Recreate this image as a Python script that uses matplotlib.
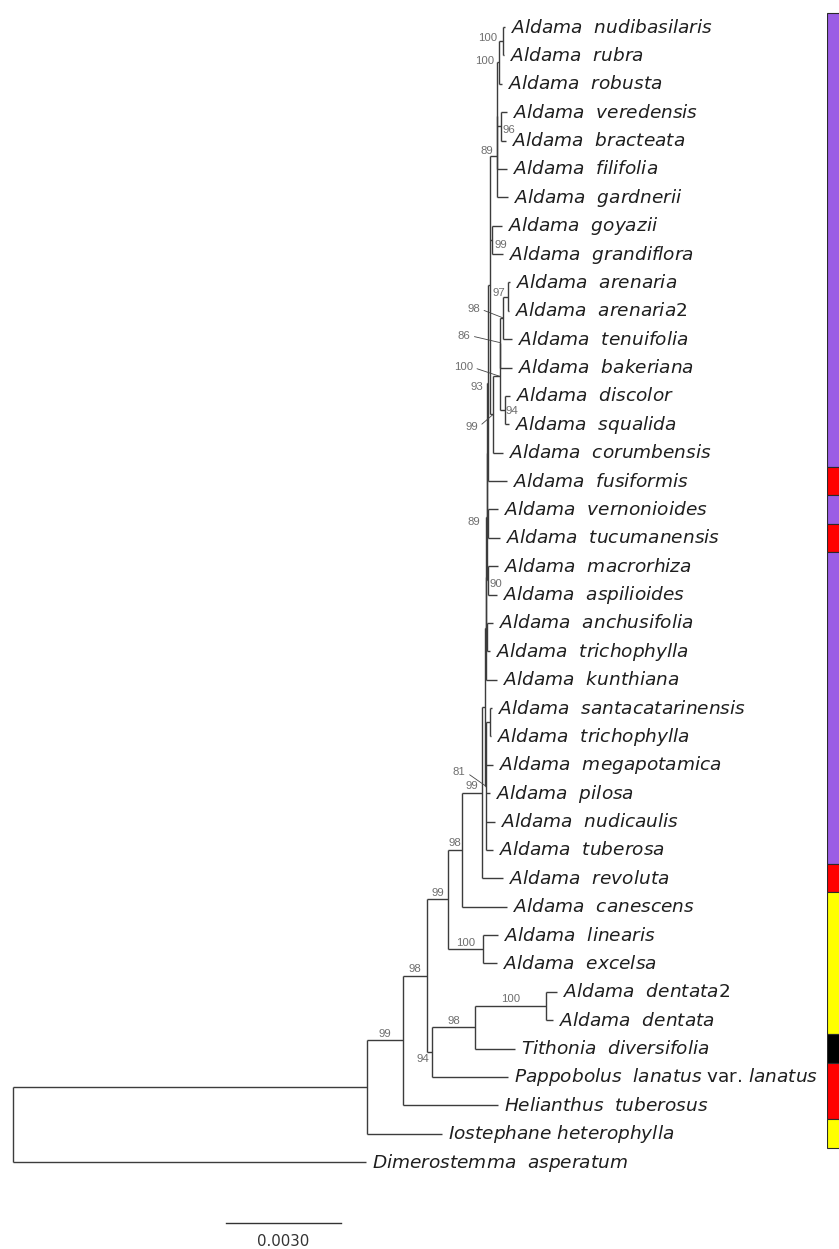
import matplotlib
matplotlib.use('Agg')
import matplotlib.pyplot as plt

# tip names, top to bottom
tip_names = [
    'Aldama  nudibasilaris', 'Aldama  rubra', 'Aldama  robusta',
    'Aldama  veredensis', 'Aldama  bracteata', 'Aldama  filifolia',
    'Aldama  gardnerii', 'Aldama  goyazii', 'Aldama  grandiflora',
    'Aldama  arenaria', 'Aldama  arenaria2', 'Aldama  tenuifolia',
    'Aldama  bakeriana', 'Aldama  discolor', 'Aldama  squalida',
    'Aldama  corumbensis', 'Aldama  fusiformis', 'Aldama  vernonioides',
    'Aldama  tucumanensis', 'Aldama  macrorhiza', 'Aldama  aspilioides',
    'Aldama  anchusifolia', 'Aldama  trichophylla', 'Aldama  kunthiana',
    'Aldama  santacatarinensis', 'Aldama  trichophylla', 'Aldama  megapotamica',
    'Aldama  pilosa', 'Aldama  nudicaulis', 'Aldama  tuberosa',
    'Aldama  revoluta', 'Aldama  canescens', 'Aldama  linearis',
    'Aldama  excelsa', 'Aldama  dentata2', 'Aldama  dentata',
    'Tithonia  diversifolia', 'Pappobolus  lanatus var. lanatus',
    'Helianthus  tuberosus', 'Iostephane heterophylla', 'Dimerostemma  asperatum',
]

# region colour strip at the right (None = no cell)
tip_region = (['P'] * 16 + ['R', 'P', 'R'] + ['P'] * 11 + ['R'] + ['Y'] * 5
              + ['K', 'R', 'R', 'Y', None])
region_colors = {'P': '#9b5de5', 'R': '#ff0000', 'Y': '#ffff00', 'K': '#000000'}

# topology, branch lengths (subst./site) and bootstrap; tN = tip_names[N]
newick = (
    "(((((((((((((("
    "((((t0:0.00005,t1:0.00003)100:0.0001,t2:0.00008)100:0.00004,"
    "(t3:0.00016,t4:0.00013)96:0.00009,t5:0.00025):0.00001,"
    "t6:0.00029)89:0.00018,"
    "(t7:0.00026,t8:0.00029)99:0.00005,"
    "(((((t9:0.00005,t10:0.00003)97:0.00013,t11:0.00023)98:0.00007,"
    "t12:0.0003)86:0.00001,(t13:0.00013,t14:0.0001)94:0.00013)100:0.00018,"
    "t15:0.00026)99:0.00008):0.00004,"
    "t16:0.00048)93:0.00004,"
    "(t17:0.00026,t18:0.00031)89:0.00003):0.00001,"
    "(t19:0.00026,t20:0.00023)90:0.00004):0.00001,"
    "(t21:0.00016,t22:0.00008):0.00003):0.00001,"
    "t23:0.0003):0.00001,"
    "((t24:0.00005,t25:0.00003):0.00012,t26:0.0002,t27:0.00012,"
    "t28:0.00025,t29:0.0002)81:0.00001"
    "):0.00008,"
    "t30:0.00055)99:0.00052,"
    "t31:0.00117)98:0.00037,"
    "(t32:0.00039,t33:0.00037)100:0.00091)99:0.00055,"
    "(((t34:0.00029,t35:0.00018)100:0.00185,t36:0.00104)98:0.00112,"
    "t37:0.00198)94:0.00013"
    ")98:0.00063,"
    "t38:0.00248)99:0.00094,"
    "t39:0.00196):0.00924,"
    "t40:0.00921);"
)

scale_len = 0.003

# ---- layout constants (pixels) ----
W, H, DPI = 839, 1249, 100
PX = 0.003 / 115          # branch-length units per pixel
X0 = 12.7                 # root position
ROW0, ROW = 27, 28.375    # first tip row, row spacing


def pt(px):
    return px * 72.0 / DPI


def parse(s):
    pos = [0]

    def node():
        kids = []
        if s[pos[0]] == '(':
            pos[0] += 1
            kids.append(node())
            while s[pos[0]] == ',':
                pos[0] += 1
                kids.append(node())
            pos[0] += 1
        st = pos[0]
        while s[pos[0]] not in ':,();':
            pos[0] += 1
        lab = s[st:pos[0]]
        ln = 0.0
        if s[pos[0]] == ':':
            pos[0] += 1
            st = pos[0]
            while s[pos[0]] not in ',();':
                pos[0] += 1
            ln = float(s[st:pos[0]])
        return {'kids': kids, 'label': lab, 'len': ln}

    return node()


def layout(n, x0):
    n['x'] = x0 + n['len']
    if n['kids']:
        for k in n['kids']:
            layout(k, n['x'])
        n['y'] = (n['kids'][0]['y'] + n['kids'][-1]['y']) / 2
        n['span'] = (n['kids'][0]['span'][0], n['kids'][-1]['span'][1])
    else:
        i = int(n['label'][1:])
        n['y'] = i
        n['span'] = (i, i)


def fmt(name):
    out = []
    for w in name.split(' '):
        if w == '' or w == 'var.':
            out.append(w)
            continue
        j = len(w)
        while w[j - 1].isdigit():
            j -= 1
        out.append(r'$\mathit{' + w[:j] + '}$' + w[j:])
    return ' '.join(out)


# where bootstrap values go when the branch is too short
label_style = {
    (0, 1): ('left', -5, -3), (0, 2): ('left', -5, -1), (3, 4): ('right', 2, 4),
    (0, 6): ('left', -4, -5), (7, 8): ('right', 3, 5), (9, 10): ('left', -3, -4),
    (9, 11): ('ptr', -23, -9), (9, 12): ('ptr', -30, -7), (9, 14): ('ptr', -27, -9),
    (9, 15): ('ptr', -15, 13), (0, 16): ('left', -5, 4), (13, 14): ('right', 1, 1),
    (17, 18): ('left', -8, -2), (19, 20): ('right', 1, 4), (24, 29): ('ptr', -20, -14),
    (34, 37): ('below', -3, 2),
}

tree = parse(newick)
layout(tree, 0.0)

fig = plt.figure(figsize=(W / DPI, H / DPI), dpi=DPI)
ax = fig.add_axes([0, 0, 1, 1])
ax.set_xlim(-X0 * PX, (W - X0) * PX)
ax.set_ylim((H - ROW0) / ROW, -ROW0 / ROW)
ax.axis('off')

LC = '#3c3c3c'
BS = dict(fontsize=8.2, color='#6e6e6e', family='Liberation Sans')


def draw(n, px):
    for k in n['kids']:
        ax.plot([n['x'], k['x']], [k['y'], k['y']], color=LC, lw=1.0,
                solid_capstyle='butt')
        draw(k, n['x'])
    if n['kids']:
        ax.plot([n['x'], n['x']], [n['kids'][0]['y'], n['kids'][-1]['y']],
                color=LC, lw=1.0, solid_capstyle='butt')
        if n['label']:
            st = label_style.get(n['span'])
            if st is None:
                ax.annotate(n['label'], ((px + n['x']) / 2, n['y']),
                            xytext=(0, pt(1.5)), textcoords='offset points',
                            ha='center', va='bottom', **BS)
            elif st[0] == 'left':
                ax.annotate(n['label'], (n['x'], n['y']),
                            xytext=(pt(st[1]), -pt(st[2])), textcoords='offset points',
                            ha='right', va='center', **BS)
            elif st[0] == 'right':
                ax.annotate(n['label'], (n['x'], n['y']),
                            xytext=(pt(st[1]), -pt(st[2])), textcoords='offset points',
                            ha='left', va='center', **BS)
            elif st[0] == 'below':
                ax.annotate(n['label'], (n['x'], n['y']),
                            xytext=(pt(st[1]), -pt(st[2])), textcoords='offset points',
                            ha='right', va='top', **BS)
            else:
                ax.annotate(n['label'], (n['x'], n['y']),
                            xytext=(pt(st[1]), -pt(st[2])), textcoords='offset points',
                            ha='right', va='center',
                            arrowprops=dict(arrowstyle='-', color='#444444', lw=0.6,
                                            shrinkA=1, shrinkB=0, relpos=(1, 0.5)),
                            **BS)
    else:
        i = n['span'][0]
        ax.annotate(fmt(tip_names[i]), (n['x'], n['y']),
                    xytext=(pt(6), -pt(5.5)), textcoords='offset points',
                    ha='left', va='baseline', fontsize=13.3, color='#1e1e1e')


draw(tree, 0.0)

# scale bar
sx = (226 - X0) * PX
sy = (1223 - ROW0) / ROW
ax.plot([sx, sx + scale_len], [sy, sy], color='#333333', lw=1.0)
ax.annotate('%.4f' % scale_len, (sx + scale_len / 2, sy), xytext=(0, -pt(18)),
            textcoords='offset points', ha='center', va='center',
            fontsize=10.8, color='#333333')

# region strip
bx = fig.add_axes([827 / W, 0, 14 / W, 1])
bx.set_xlim(0, 1)
bx.set_ylim(ax.get_ylim())
bx.axis('off')
i = 0
while i < len(tip_region):
    j = i
    while j + 1 < len(tip_region) and tip_region[j + 1] == tip_region[i]:
        j += 1
    if tip_region[i] is not None:
        bx.barh((i + j) / 2, 1, height=j - i + 1, left=0,
                color=region_colors[tip_region[i]], edgecolor='#2a2a2a', lw=0.8)
    i = j + 1

fig.savefig('out.png', dpi=DPI, facecolor='white')
